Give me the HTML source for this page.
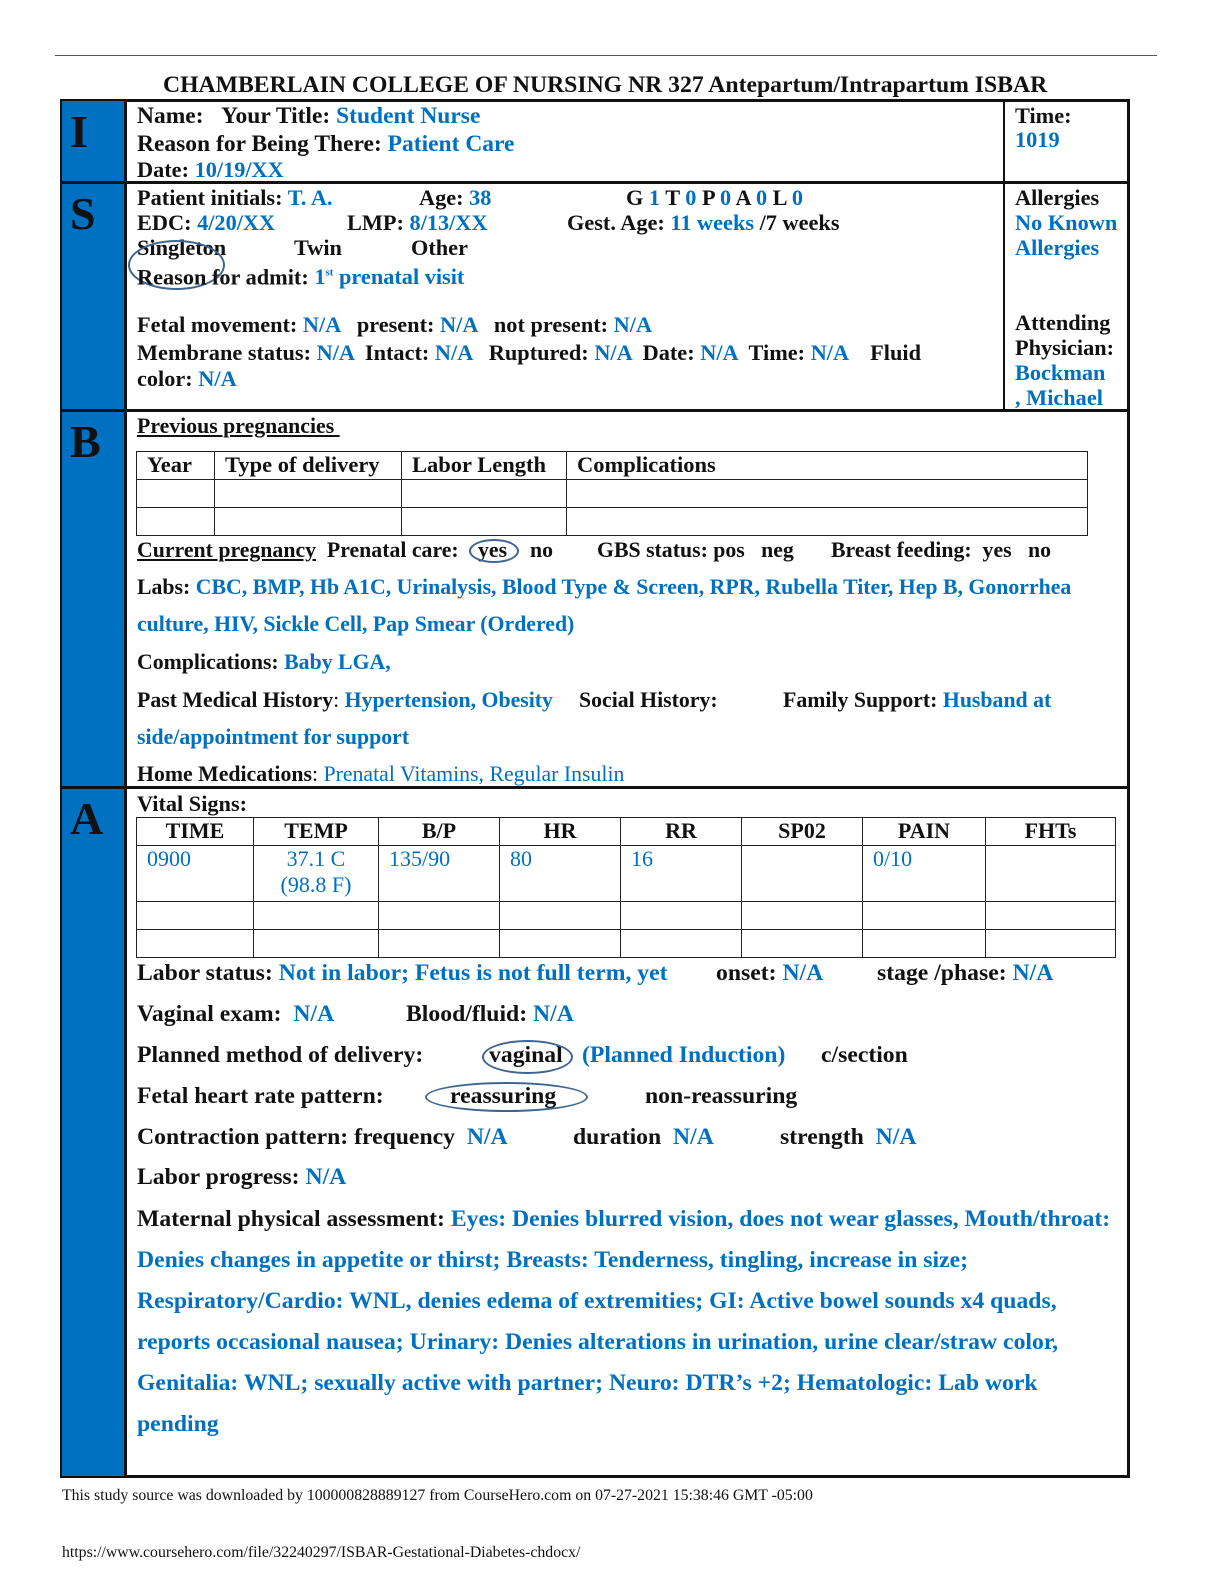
<!DOCTYPE html>
<html><head><meta charset="utf-8"><style>
body{margin:0;width:1224px;height:1584px;background:#fff;position:relative;font-family:"Liberation Serif",serif;font-weight:bold;font-size:22px;color:#111;overflow:hidden}
.a{position:absolute;line-height:24px;white-space:nowrap}
.b{color:#0070c0}
.n{font-weight:normal}
.box{position:absolute;box-sizing:border-box}
table{border-collapse:collapse;position:absolute}
td{border:1.5px solid #222;padding:0 10px;vertical-align:top;line-height:26px}
.ov{position:absolute;border:2px solid #3e6690;border-radius:50%;box-sizing:border-box}
.si{font-size:23.5px}
.ss{font-size:22.3px}
.sb{font-size:21.8px}
.sa{font-size:23.7px}
</style></head><body>
<div class="box" style="left:55px;top:55px;width:1102px;height:1px;background:#555"></div>
<div class="a" style="left:163px;top:73px;font-size:23.7px">CHAMBERLAIN COLLEGE OF NURSING NR 327 Antepartum/Intrapartum ISBAR</div>
<div class="box" style="left:60px;top:99px;width:1070px;height:1379px;border:3px solid #111"></div>
<div class="box" style="left:62px;top:101px;width:62px;height:1375px;background:#0070c0"></div>
<div class="box" style="left:124px;top:101px;width:3px;height:1375px;background:#111"></div>
<div class="box" style="left:60px;top:181px;width:1070px;height:3px;background:#111"></div>
<div class="box" style="left:60px;top:409px;width:1070px;height:3px;background:#111"></div>
<div class="box" style="left:60px;top:786px;width:1070px;height:3px;background:#111"></div>
<div class="box" style="left:1003px;top:101px;width:2px;height:309px;background:#111"></div>
<div class="a" style="left:70px;top:110px;font-size:46px;line-height:44px">I</div>
<div class="a" style="left:70px;top:192px;font-size:46px;line-height:44px">S</div>
<div class="a" style="left:70px;top:420px;font-size:46px;line-height:44px">B</div>
<div class="a" style="left:70px;top:797px;font-size:46px;line-height:44px">A</div>
<!-- I -->
<div class="a si" style="left:137px;top:104px">Name: &nbsp;&nbsp;Your Title: <span class="b">Student Nurse</span></div>
<div class="a si" style="left:137px;top:132px">Reason for Being There: <span class="b">Patient Care</span></div>
<div class="a ss" style="left:137px;top:158px">Date: <span class="b">10/19/XX</span></div>
<div class="a ss" style="left:1015px;top:104px">Time:</div>
<div class="a b ss" style="left:1015px;top:128px">1019</div>
<!-- S -->
<div class="a ss" style="left:137px;top:186px">Patient initials: <span class="b">T. A.</span></div>
<div class="a ss" style="left:419px;top:186px">Age: <span class="b">38</span></div>
<div class="a ss" style="left:626px;top:186px">G <span class="b">1</span> T <span class="b">0</span> P <span class="b">0</span> A <span class="b">0</span> L <span class="b">0</span></div>
<div class="a ss" style="left:137px;top:211px">EDC: <span class="b">4/20/XX</span></div>
<div class="a ss" style="left:347px;top:211px">LMP: <span class="b">8/13/XX</span></div>
<div class="a ss" style="left:567px;top:211px">Gest. Age: <span class="b">11 weeks</span> /7 weeks</div>
<div class="a ss" style="left:137px;top:236px">Singleton</div>
<div class="a ss" style="left:294px;top:236px">Twin</div>
<div class="a ss" style="left:411px;top:236px">Other</div>
<div class="ov" style="left:128px;top:240px;width:97px;height:50px"></div>
<div class="a ss" style="left:137px;top:261px">Reason for admit: <span class="b">1<sup style="font-size:11px">st</sup> prenatal visit</span></div>
<div class="a ss" style="left:137px;top:313px">Fetal movement: <span class="b">N/A</span> &nbsp;&nbsp;present: <span class="b">N/A</span> &nbsp;&nbsp;not present: <span class="b">N/A</span></div>
<div class="a ss" style="left:137px;top:341px">Membrane status: <span class="b">N/A</span> &nbsp;Intact: <span class="b">N/A</span> &nbsp;&nbsp;Ruptured: <span class="b">N/A</span> &nbsp;Date: <span class="b">N/A</span> &nbsp;Time: <span class="b">N/A</span> &nbsp;&nbsp;&nbsp;Fluid</div>
<div class="a ss" style="left:137px;top:367px">color: <span class="b">N/A</span></div>
<div class="a ss" style="left:1015px;top:186px">Allergies</div>
<div class="a b ss" style="left:1015px;top:211px">No Known</div>
<div class="a b ss" style="left:1015px;top:236px">Allergies</div>
<div class="a ss" style="left:1015px;top:311px">Attending</div>
<div class="a ss" style="left:1015px;top:336px">Physician:</div>
<div class="a b ss" style="left:1015px;top:361px">Bockman</div>
<div class="a b ss" style="left:1015px;top:386px">, Michael</div>
<!-- B -->
<div class="a sb" style="left:137px;top:414px;text-decoration:underline">Previous pregnancies&nbsp;</div>
<table style="left:136px;top:451px;width:952px">
<tr style="height:28px"><td style="width:57px;font-size:22.5px">Year</td><td style="width:166px;font-size:22.5px">Type of delivery</td><td style="width:144px;font-size:22.5px">Labor Length</td><td style="font-size:22.5px">Complications</td></tr>
<tr style="height:28px"><td></td><td></td><td></td><td></td></tr>
<tr style="height:28px"><td></td><td></td><td></td><td></td></tr>
</table>
<div class="a sb" style="left:137px;top:538px"><u>Current pregnancy</u>&nbsp; Prenatal care:</div>
<div class="a sb" style="left:478px;top:538px">yes</div>
<div class="a sb" style="left:530px;top:538px">no</div>
<div class="ov" style="left:469px;top:539px;width:50px;height:24px"></div>
<div class="a sb" style="left:597px;top:538px">GBS status: pos &nbsp;&nbsp;neg</div>
<div class="a sb" style="left:831px;top:538px">Breast feeding: &nbsp;yes &nbsp;&nbsp;no</div>
<div class="a sb" style="left:137px;top:575px">Labs: <span class="b">CBC, BMP, Hb A1C, Urinalysis, Blood Type &amp; Screen, RPR, Rubella Titer, Hep B, Gonorrhea</span></div>
<div class="a b sb" style="left:137px;top:612px">culture, HIV, Sickle Cell, Pap Smear (Ordered)</div>
<div class="a sb" style="left:137px;top:650px">Complications: <span class="b">Baby LGA,</span></div>
<div class="a sb" style="left:137px;top:688px">Past Medical History<span class="n">:</span> <span class="b">Hypertension, Obesity</span></div>
<div class="a sb" style="left:579px;top:688px">Social History:</div>
<div class="a sb" style="left:783px;top:688px">Family Support: <span class="b">Husband at</span></div>
<div class="a b sb" style="left:137px;top:725px">side/appointment for support</div>
<div class="a sb" style="left:137px;top:762px">Home Medications<span class="n">:</span> <span class="b n">Prenatal Vitamins, Regular Insulin</span></div>
<!-- A -->
<div class="a ss" style="left:137px;top:792px">Vital Signs:</div>
<table style="left:136px;top:817px;width:980px;font-size:22px">
<tr style="height:28px;text-align:center"><td style="width:96px">TIME</td><td style="width:104px">TEMP</td><td style="width:100px">B/P</td><td style="width:100px">HR</td><td style="width:100px">RR</td><td style="width:100px">SP02</td><td style="width:102px">PAIN</td><td>FHTs</td></tr>
<tr style="height:56px" class="b n"><td>0900</td><td style="text-align:center">37.1 C<br>(98.8 F)</td><td>135/90</td><td>80</td><td>16</td><td></td><td>0/10</td><td></td></tr>
<tr style="height:28px"><td></td><td></td><td></td><td></td><td></td><td></td><td></td><td></td></tr>
<tr style="height:28px"><td></td><td></td><td></td><td></td><td></td><td></td><td></td><td></td></tr>
</table>
<div class="a sa" style="left:137px;top:961px">Labor status: <span class="b">Not in labor; Fetus is not full term, yet</span></div>
<div class="a sa" style="left:716px;top:961px">onset: <span class="b">N/A</span></div>
<div class="a sa" style="left:877px;top:961px">stage /phase: <span class="b">N/A</span></div>
<div class="a sa" style="left:137px;top:1002px">Vaginal exam: &nbsp;<span class="b">N/A</span></div>
<div class="a sa" style="left:406px;top:1002px">Blood/fluid: <span class="b">N/A</span></div>
<div class="a sa" style="left:137px;top:1043px">Planned method of delivery:</div>
<div class="a sa" style="left:489px;top:1043px">vaginal</div>
<div class="a b sa" style="left:582px;top:1043px">(Planned Induction)</div>
<div class="ov" style="left:482px;top:1040px;width:91px;height:34px"></div>
<div class="a sa" style="left:821px;top:1043px">c/section</div>
<div class="a sa" style="left:137px;top:1084px">Fetal heart rate pattern:</div>
<div class="a sa" style="left:450px;top:1084px">reassuring</div>
<div class="ov" style="left:425px;top:1082px;width:163px;height:30px"></div>
<div class="a sa" style="left:645px;top:1084px">non-reassuring</div>
<div class="a sa" style="left:137px;top:1125px">Contraction pattern: frequency &nbsp;<span class="b">N/A</span></div>
<div class="a sa" style="left:573px;top:1125px">duration &nbsp;<span class="b">N/A</span></div>
<div class="a sa" style="left:780px;top:1125px">strength &nbsp;<span class="b">N/A</span></div>
<div class="a sa" style="left:137px;top:1165px">Labor progress: <span class="b">N/A</span></div>
<div class="a sa" style="left:137px;top:1207px">Maternal physical assessment: <span class="b">Eyes: Denies blurred vision, does not wear glasses, Mouth/throat:</span></div>
<div class="a b sa" style="left:137px;top:1248px">Denies changes in appetite or thirst; Breasts: Tenderness, tingling, increase in size;</div>
<div class="a b sa" style="left:137px;top:1289px">Respiratory/Cardio: WNL, denies edema of extremities; GI: Active bowel sounds x4 quads,</div>
<div class="a b sa" style="left:137px;top:1330px">reports occasional nausea; Urinary: Denies alterations in urination, urine clear/straw color,</div>
<div class="a b sa" style="left:137px;top:1371px">Genitalia: WNL; sexually active with partner; Neuro: DTR’s +2; Hematologic: Lab work</div>
<div class="a b sa" style="left:137px;top:1412px">pending</div>
<div class="a n" style="left:62px;top:1484px;font-size:15.8px">This study source was downloaded by 100000828889127 from CourseHero.com on 07-27-2021 15:38:46 GMT -05:00</div>
<div class="a n" style="left:62px;top:1541px;font-size:15.8px">https://www.coursehero.com/file/32240297/ISBAR-Gestational-Diabetes-chdocx/</div>
</body></html>
